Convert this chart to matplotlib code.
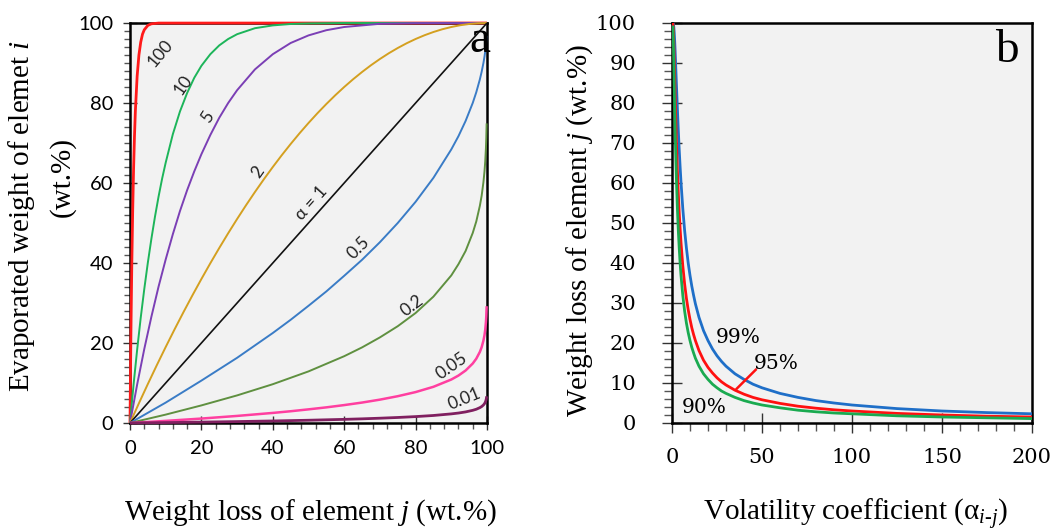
import matplotlib
matplotlib.use("Agg")
import matplotlib.pyplot as plt
from matplotlib.ticker import MultipleLocator

# ---------------- data ----------------
# Panel a: evaporated weight of element i vs weight loss of element j
x_a100 = [0, 0.25, 0.5, 0.75, 1, 1.25, 1.5, 2, 2.5, 3, 3.5, 4, 5, 6, 8, 100]
y_a100 = [0, 22.1, 39.4, 52.9, 63.4, 71.6, 77.9, 86.7, 92.0, 95.2, 97.2, 98.3, 99.4, 99.8, 99.98, 100]

x_a10 = [0, 1, 2, 3, 4, 5, 6, 7, 8, 9, 10, 12, 14, 16, 18, 20, 22.5, 25, 27.5, 30, 35, 40, 45, 50, 60, 100]
y_a10 = [0, 9.6, 18.3, 26.3, 33.5, 40.1, 46.1, 51.6, 56.6, 61.1, 65.1, 72.2, 77.9, 82.5, 86.3, 89.3,
         92.2, 94.4, 96.0, 97.2, 98.7, 99.4, 99.75, 99.9, 100, 100]

x_a5 = [0, 2, 4, 6, 8, 10, 12, 14, 16, 18, 20, 22.5, 25, 27.5, 30, 35, 40, 45, 50, 55, 60, 70, 80, 100]
y_a5 = [0, 9.6, 18.5, 26.6, 34.1, 40.9, 47.2, 53.0, 58.2, 62.9, 67.2, 72.0, 76.3, 80.0, 83.2, 88.4,
        92.2, 95.0, 96.9, 98.2, 99.0, 99.8, 99.97, 100]

x_a2 = [0, 2.5, 5, 7.5, 10, 12.5, 15, 17.5, 20, 22.5, 25, 27.5, 30, 32.5, 35, 37.5, 40, 42.5, 45, 47.5,
        50, 52.5, 55, 57.5, 60, 62.5, 65, 67.5, 70, 72.5, 75, 77.5, 80, 82.5, 85, 87.5, 90, 92.5, 95, 97.5, 100]
y_a2 = [0, 4.94, 9.75, 14.44, 19.0, 23.44, 27.75, 31.94, 36.0, 39.94, 43.75, 47.44, 51.0, 54.44, 57.75,
        60.94, 64.0, 66.94, 69.75, 72.44, 75.0, 77.44, 79.75, 81.94, 84.0, 85.94, 87.75, 89.44, 91.0,
        92.44, 93.75, 94.94, 96.0, 96.94, 97.75, 98.44, 99.0, 99.44, 99.75, 99.94, 100]

x_a1 = [0, 100]
y_a1 = [0, 100]

x_low = [0, 10, 20, 30, 40, 45, 50, 55, 60, 65, 70, 75, 80, 85, 90, 92, 94, 96, 97, 98, 98.5, 99,
         99.3, 99.5, 99.7, 99.8, 99.9]
y_a05 = [0, 5.1, 10.6, 16.3, 22.5, 25.8, 29.3, 32.9, 36.8, 40.8, 45.2, 50.0, 55.3, 61.3, 68.4, 71.7,
         75.5, 80.0, 82.7, 85.9, 87.8, 90.0, 91.6, 92.9, 94.5, 95.5, 96.8]
y_a02 = [0, 2.1, 4.4, 6.9, 9.7, 11.3, 12.9, 14.8, 16.7, 18.9, 21.4, 24.2, 27.5, 31.6, 36.9, 39.7,
         43.0, 47.5, 50.4, 54.3, 56.8, 60.2, 62.9, 65.3, 68.7, 71.2, 74.9]
y_a005 = [0, 0.53, 1.11, 1.77, 2.52, 2.94, 3.41, 3.91, 4.48, 5.11, 5.84, 6.70, 7.73, 9.05, 10.87,
          11.86, 13.12, 14.87, 16.08, 17.77, 18.94, 20.6, 21.97, 23.28, 25.21, 26.7, 29.2]
y_a001 = [0, 0.105, 0.223, 0.356, 0.51, 0.60, 0.69, 0.80, 0.91, 1.04, 1.20, 1.38, 1.60, 1.88, 2.28,
          2.49, 2.77, 3.17, 3.44, 3.84, 4.11, 4.5, 4.84, 5.16, 5.64, 6.0, 6.67]

curve_labels_a = ["100", "10", "5", "2", "α = 1", "0.5", "0.2", "0.05", "0.01"]

# Panel b: weight loss of element j vs volatility coefficient
alpha_b = [0.5, 0.7, 1, 1.25, 1.5, 1.75, 2, 2.5, 3, 3.5, 4, 4.5, 5, 6, 7, 8, 9, 10, 11, 12, 13, 15,
           17.5, 20, 22.5, 25, 27.5, 30, 35, 40, 45, 50, 60, 70, 80, 90, 100, 125, 150, 175, 200]
loss_99 = [99.99, 99.86, 99.0, 97.5, 95.4, 92.8, 90.0, 84.2, 78.5, 73.2, 68.4, 64.1, 60.2, 53.6, 48.2,
           43.8, 40.0, 36.9, 34.2, 31.9, 29.8, 26.4, 23.1, 20.6, 18.5, 16.8, 15.4, 14.2, 12.3, 10.9,
           9.7, 8.8, 7.4, 6.4, 5.6, 5.0, 4.5, 3.6, 3.0, 2.6, 2.3]
loss_95 = [99.75, 98.6, 95.0, 90.9, 86.4, 82.0, 77.6, 69.8, 63.2, 57.5, 52.7, 48.6, 45.1, 39.3, 34.8,
           31.2, 28.3, 25.9, 23.8, 22.1, 20.6, 18.1, 15.7, 13.9, 12.5, 11.3, 10.3, 9.5, 8.2, 7.2,
           6.4, 5.8, 4.9, 4.2, 3.7, 3.3, 3.0, 2.4, 2.0, 1.7, 1.5]
loss_90 = [99.0, 96.3, 90.0, 84.2, 78.5, 73.2, 68.4, 60.2, 53.6, 48.2, 43.8, 40.0, 36.9, 31.9, 28.0,
           25.0, 22.6, 20.6, 18.9, 17.5, 16.2, 14.2, 12.3, 10.9, 9.7, 8.8, 8.0, 7.4, 6.4, 5.6,
           5.0, 4.5, 3.8, 3.2, 2.8, 2.5, 2.3, 1.8, 1.5, 1.3, 1.1]
series_labels_b = ["99%", "95%", "90%"]

# ---------------- styling ----------------
plt.rcParams['mathtext.fontset'] = 'custom'
plt.rcParams['mathtext.rm'] = 'Liberation Serif'
plt.rcParams['mathtext.it'] = 'Liberation Serif:italic'

SERIF = 'Liberation Serif'
SANS = ['Lato', 'DejaVu Sans']
BG = '#f2f2f2'
LABEL_SIZE = 21

fig = plt.figure(figsize=(10.57, 5.32), dpi=100)
axA = fig.add_axes([130 / 1057, 109 / 532, 357 / 1057, 400 / 532])
axB = fig.add_axes([672 / 1057, 109 / 532, 360 / 1057, 400 / 532])

for ax in (axA, axB):
    ax.set_facecolor(BG)
    for s in ax.spines.values():
        s.set_linewidth(1.8)
        s.set_color('black')
    ax.tick_params(which='major', direction='inout', length=10, width=1.0, color='#333333')
    ax.tick_params(which='minor', direction='out', length=4.5, width=1.0, color='#555555')

# ----- panel a -----
colors_a = ['#ff1a1a', '#1db55a', '#7b3fb5', '#d4a020', '#111111', '#3a7cc6', '#5f9040', '#ff3fa0', '#802060']
xs_a = [x_a100, x_a10, x_a5, x_a2, x_a1, x_low, x_low, x_low, x_low]
ys_a = [y_a100, y_a10, y_a5, y_a2, y_a1, y_a05, y_a02, y_a005, y_a001]
lws_a = [2.0, 1.4, 1.4, 1.4, 1.2, 1.4, 1.4, 1.8, 2.0]
for xs, ys, c, lw in zip(xs_a, ys_a, colors_a, lws_a):
    axA.plot(xs, ys, color=c, lw=lw, zorder=3, clip_on=False, solid_capstyle='butt',
             solid_joinstyle='round')

axA.set_xlim(0, 100)
axA.set_ylim(0, 100)
axA.xaxis.set_major_locator(MultipleLocator(20))
axA.xaxis.set_minor_locator(MultipleLocator(4))
axA.yaxis.set_major_locator(MultipleLocator(20))
axA.yaxis.set_minor_locator(MultipleLocator(2))
axA.tick_params(axis='both', which='major', labelsize=14.5, pad=7)
for lab in axA.get_xticklabels() + axA.get_yticklabels():
    lab.set_family(SANS)

label_pos_a = [(8.4, 92.5, 50), (14.8, 84.5, 55), (21.8, 76.5, 57), (35.9, 62.8, 55),
               (50.9, 55.0, 48), (64.0, 43.7, 45), (79.0, 29.2, 37), (90.0, 14.2, 35), (93.8, 6.0, 22)]
for text, (x, y, rot) in zip(curve_labels_a, label_pos_a):
    axA.text(x, y, text, rotation=rot, rotation_mode='anchor', ha='center', va='center',
             fontsize=12.5, family=SANS, color='#222222', zorder=4)

axA.text(98, 95.5, 'a', fontsize=34, family=SERIF, ha='center', va='center', zorder=5)

fig.text(310 / 1057, 1 - 513 / 532, r'Weight loss of element $j$ (wt.%)', fontsize=LABEL_SIZE,
         family=SERIF, ha='center', va='center')
fig.text(22 / 1057, 1 - 216 / 532, r'Evaporated weight of elemet $i$', fontsize=LABEL_SIZE,
         family=SERIF, ha='center', va='center', rotation=90)
fig.text(62 / 1057, 1 - 177 / 532, '(wt.%)', fontsize=LABEL_SIZE,
         family=SERIF, ha='center', va='center', rotation=90)

# ----- panel b -----
axB.plot(alpha_b, loss_99, color='#1f6fc8', lw=2.0, zorder=3, solid_joinstyle='round')
axB.plot(alpha_b, loss_95, color='#ff1010', lw=2.0, zorder=3, solid_joinstyle='round')
axB.plot(alpha_b, loss_90, color='#1aaa50', lw=2.0, zorder=3, solid_joinstyle='round')

axB.set_xlim(0, 200)
axB.set_ylim(0, 100)
axB.xaxis.set_major_locator(MultipleLocator(50))
axB.xaxis.set_minor_locator(MultipleLocator(10))
axB.yaxis.set_major_locator(MultipleLocator(10))
axB.yaxis.set_minor_locator(MultipleLocator(2))
axB.tick_params(which='major', length=14)
axB.tick_params(which='minor', length=6)
axB.tick_params(axis='x', which='major', labelsize=15, pad=11)
axB.tick_params(axis='y', which='major', labelsize=15, pad=19)
for lab in axB.get_xticklabels() + axB.get_yticklabels():
    lab.set_family('DejaVu Serif')

axB.text(36.7, 21.3, series_labels_b[0], fontsize=14.5, family='DejaVu Serif', ha='center', va='center')
axB.text(58.0, 14.8, series_labels_b[1], fontsize=14.5, family='DejaVu Serif', ha='center', va='center')
axB.text(17.8, 3.8, series_labels_b[2], fontsize=14.5, family='DejaVu Serif', ha='center', va='center')
axB.plot([36, 46.5], [8.6, 13.3], color='#ff1010', lw=1.8, zorder=4)

axB.text(186, 93, 'b', fontsize=34, family=SERIF, ha='center', va='center')

fig.text(856 / 1057, 1 - 514 / 532, r'Volatility coefficient (α$_{i\text{-}j}$)', fontsize=LABEL_SIZE,
         family=SERIF, ha='center', va='center')
fig.text(580 / 1057, 1 - 231 / 532, r'Weight loss of element $j$ (wt.%)', fontsize=LABEL_SIZE,
         family=SERIF, ha='center', va='center', rotation=90)

fig.savefig('out.png', dpi=100)
